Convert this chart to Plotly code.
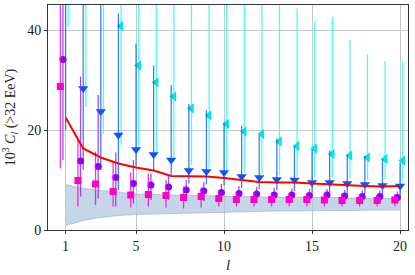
import plotly.graph_objects as go

l = list(range(1, 21))

# magenta squares
mag_val = [28.7, 9.9, 9.2, 7.7, 7.0, 7.1, 6.9, 6.5, 6.7, 6.3, 6.1, 6.1, 6.1, 6.1, 6.1, 6.0, 5.9, 5.9, 5.9, 6.0]
mag_hi = [50, 18.3, 15.7, 13.7, 11.5, 11.3, 10.0, 8.7, 8.5, 8.0, 7.7, 7.6, 7.5, 7.4, 7.4, 7.3, 7.2, 7.2, 7.1, 7.2]
mag_lo = [12.3, 4.7, 5.0, 4.7, 4.5, 4.7, 4.5, 4.3, 4.5, 4.7, 4.7, 4.7, 4.7, 4.7, 4.7, 4.7, 4.7, 4.7, 4.7, 4.7]

# purple circles
pur_val = [34.1, 13.8, 12.7, 10.5, 9.3, 9.0, 8.6, 8.0, 7.8, 7.5, 7.3, 7.2, 7.0, 7.0, 6.9, 7.0, 6.8, 6.7, 6.7, 6.5]
pur_hi = [50, 30.7, 27.0, 15.5, 14.0, 11.3, 10.8, 10.0, 9.6, 9.2, 8.8, 8.6, 8.4, 8.3, 8.2, 8.2, 8.0, 7.9, 7.9, 7.7]
pur_lo = [14.0, 6.7, 6.3, 4.7, 5.3, 6.0, 6.0, 5.8, 5.8, 5.7, 5.7, 5.7, 5.6, 5.6, 5.5, 5.6, 5.5, 5.5, 5.5, 5.3]

# blue down-triangles
blu_val = [55, 28.3, 23.7, 19.0, 16.1, 15.1, 14.0, 11.9, 11.7, 11.5, 10.7, 10.5, 10.1, 10.0, 9.5, 9.5, 9.3, 9.1, 8.9, 8.8]
blu_hi = [80, 60, 55, 43.3, 37.3, 32.9, 29.0, 25.2, 24.0, 21.5, 20.8, 19.0, 18.3, 16.8, 16.1, 15.9, 15.0, 14.8, 14.2, 13.5]
blu_lo = [20.0, 12.0, 12.0, 8.0, 12.8, 12.0, 11.0, 9.3, 9.1, 8.9, 8.4, 8.2, 7.9, 7.8, 7.5, 7.5, 7.3, 7.2, 7.0, 6.9]

# cyan left-triangles
cya_val = [60, 55, 50, 40.8, 32.9, 29.5, 26.7, 24.3, 22.9, 21.2, 19.7, 19.2, 17.7, 16.8, 16.3, 15.2, 14.9, 14.5, 14.2, 13.9]
cya_hi = [90, 90, 80, 75, 70, 65, 60, 58, 56, 54, 52, 50, 48, 44.3, 41.7, 42.5, 38.0, 35.1, 33.8, 33.8]
cya_lo = [40.7, 24.6, 19.2, 17.0, 16.0, 15.0, 14.0, 13.0, 12.5, 12.0, 11.5, 11.2, 11.0, 10.8, 10.6, 10.5, 10.3, 10.1, 10.0, 9.8]

# red line
red_val = [22.5, 16.3, 14.5, 13.3, 12.5, 11.9, 10.8, 10.7, 10.7, 10.4, 10.0, 9.6, 9.5, 9.5, 9.3, 9.1, 8.9, 8.8, 8.7, 8.8]

# shaded band
band_hi = [9.1, 8.3, 7.9, 7.5, 7.2, 7.1, 7.0, 6.9, 6.8, 6.7, 6.7, 6.6, 6.6, 6.5, 6.5, 6.5, 6.4, 6.4, 6.3, 6.3]
band_lo = [0.9, 1.9, 2.5, 2.9, 3.1, 3.2, 3.3, 3.4, 3.5, 3.6, 3.7, 3.7, 3.8, 3.8, 3.9, 3.9, 3.9, 4.0, 4.0, 4.0]

offsets = {"mag": -0.3, "pur": -0.15, "blu": 0.0, "cya": 0.15}

fig = go.Figure()

# band
fig.add_trace(go.Scatter(x=l, y=band_lo, mode="lines", line=dict(color="rgba(120,160,200,0.6)", width=0.8),
                         showlegend=False, hoverinfo="skip"))
fig.add_trace(go.Scatter(x=l, y=band_hi, mode="lines", line=dict(color="rgba(120,160,200,0.6)", width=0.8),
                         fill="tonexty", fillcolor="rgba(176,200,224,0.75)", showlegend=False, hoverinfo="skip"))

def series(key, vals, his, los, color, ecolor, symbol, size):
    xs = [v + offsets[key] for v in l]
    fig.add_trace(go.Scatter(
        x=xs, y=vals, mode="markers",
        marker=dict(symbol=symbol, size=size, color=color, line=dict(width=0)),
        error_y=dict(type="data", symmetric=False,
                     array=[h - v for h, v in zip(his, vals)],
                     arrayminus=[v - lo for v, lo in zip(vals, los)],
                     color=ecolor, thickness=1.3, width=0),
        showlegend=False, cliponaxis=True))

series("cya", cya_val, cya_hi, cya_lo, "#00e5dc", "rgba(40,255,240,0.85)", "triangle-left", 9)
series("blu", blu_val, blu_hi, blu_lo, "#0a55ff", "rgba(20,90,255,0.8)", "triangle-down", 9)
series("pur", pur_val, pur_hi, pur_lo, "#8a00ff", "rgba(140,30,255,0.8)", "circle", 7)
series("mag", mag_val, mag_hi, mag_lo, "#ff00c8", "rgba(255,0,200,0.8)", "square", 7)

fig.add_trace(go.Scatter(x=l, y=red_val, mode="lines", line=dict(color="#ff0000", width=2),
                         showlegend=False))

font_family = "Liberation Serif, DejaVu Serif, serif"
fig.update_layout(
    width=415, height=275,
    margin=dict(l=48, r=7, t=5, b=45),
    paper_bgcolor="white", plot_bgcolor="white",
    font=dict(family=font_family, size=14, color="#222"),
    xaxis=dict(range=[0.0, 20.45], tickvals=[1, 5, 10, 15, 20], showgrid=True,
               gridcolor="#c8c8c8", gridwidth=1, zeroline=False,
               showline=True, linecolor="#333", linewidth=1, mirror=True,
               ticks="outside", ticklen=3, tickcolor="#333",
               title=dict(text="<i>l</i>", standoff=6, font=dict(size=15))),
    yaxis=dict(range=[0, 45], tickvals=[0, 20, 40], showgrid=True,
               gridcolor="#c8c8c8", gridwidth=1, zeroline=False,
               showline=True, linecolor="#333", linewidth=1, mirror=True,
               ticks="outside", ticklen=3, tickcolor="#333",
               title=dict(text="10<sup>3</sup> <i>C<sub>l</sub></i> (>32 EeV)", standoff=8, font=dict(size=14))),
)

fig.write_html("out.html", config={"displayModeBar": False},
               post_script="document.body.style.margin='0';document.body.style.padding='0';")
